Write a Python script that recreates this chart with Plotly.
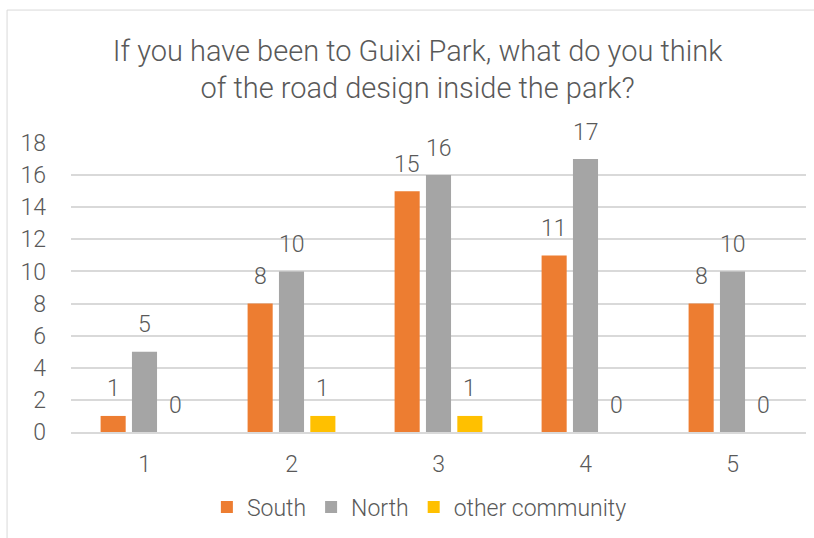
import plotly.graph_objects as go

categories = ["1", "2", "3", "4", "5"]
south = [1, 8, 15, 11, 8]
north = [5, 10, 16, 17, 10]
other = [0, 1, 1, 0, 0]
series_names = ["South", "North", "other community"]
colors = ["#ED7D31", "#A5A5A5", "#FFC000"]
y_ticks = [0, 2, 4, 6, 8, 10, 12, 14, 16, 18]

FONT = "Roboto, sans-serif"
TXT = "#595959"
W = 300

WIDTH, HEIGHT = 814, 538
ML, MR, MT, MB = 71, 8, 143, 106
BARGAP, GROUPGAP = 0.36, 0.2

fig = go.Figure()
all_series = [south, north, other]
for name, vals, col in zip(series_names, all_series, colors):
    fig.add_trace(go.Bar(
        x=categories, y=vals, name=name, marker=dict(color=col, line=dict(width=0)),
        cliponaxis=False,
    ))

# data labels placed above each bar (pixel offset for the grouped slot)
cat_w = (WIDTH - ML - MR) / len(categories)
slot = cat_w * (1 - BARGAP) / len(all_series)
annotations = []
for i, vals in enumerate(all_series):
    dx = (i - (len(all_series) - 1) / 2) * slot
    for ci, v in enumerate(vals):
        annotations.append(dict(x=ci, y=v, xref="x", yref="y", text=str(v), showarrow=False,
                                xshift=dx, yshift=27, yanchor="middle",
                                font=dict(size=23, color=TXT, family=FONT, weight=W)))

fig.update_layout(
    width=WIDTH, height=HEIGHT,
    paper_bgcolor="white", plot_bgcolor="white",
    margin=dict(l=ML, r=MR, t=MT, b=MB, autoexpand=False),
    barmode="group", bargap=BARGAP, bargroupgap=GROUPGAP,
    title=dict(text="If you have been to Guixi Park, what do you think<br>of the road design inside the park?",
               x=0.513, xanchor="center", y=0.887, yanchor="middle",
               font=dict(size=29, color=TXT, family=FONT, weight=W)),
    font=dict(family=FONT, color=TXT, weight=W),
    showlegend=True,
    legend=dict(orientation="h", x=0.474, xanchor="center", y=-0.26, yanchor="middle",
                font=dict(size=23, color=TXT, family=FONT, weight=W), itemwidth=30,
                traceorder="normal"),
    xaxis=dict(type="category", showgrid=False, showline=True, linecolor="#D9D9D9", linewidth=2,
               range=[-0.5, len(categories) - 0.5],
               ticks="", ticklabelstandoff=10, tickfont=dict(size=23, color=TXT, family=FONT, weight=W)),
    yaxis=dict(range=[0, 18], tickvals=y_ticks, showgrid=True, gridcolor="#D9D9D9", gridwidth=1.5,
               zeroline=False, showline=False, ticks="", ticklabelstandoff=24,
               tickfont=dict(size=23, color=TXT, family=FONT, weight=W)),
    annotations=annotations,
    shapes=[dict(type="rect", xref="paper", yref="paper", x0=-0.087, x1=1.03, y0=-0.5, y1=1.46,
                 line=dict(color="#D9D9D9", width=1), fillcolor="rgba(0,0,0,0)", layer="below")],
)
fig.write_html("out.html", post_script="document.body.style.margin='0';",
               config={"displayModeBar": False})
